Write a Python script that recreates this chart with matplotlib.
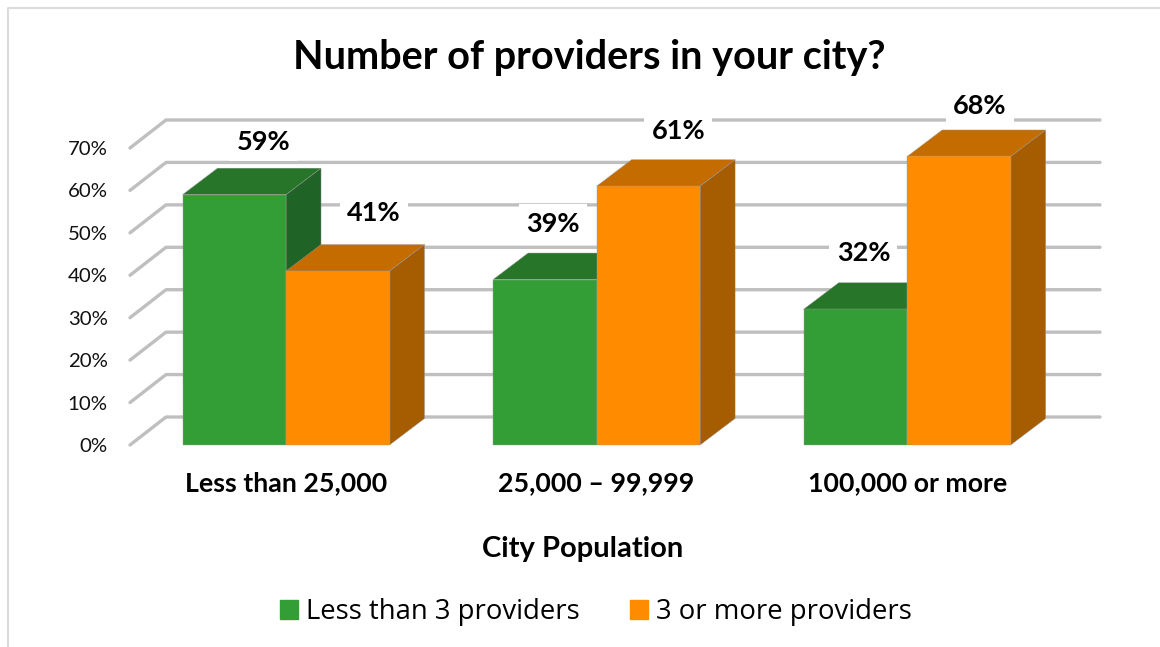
import matplotlib
matplotlib.use('Agg')
import matplotlib.pyplot as plt
from matplotlib.lines import Line2D
from matplotlib.patches import Rectangle

categories = ['Less than 25,000', '25,000 – 99,999', '100,000 or more']
less_than_3 = [59, 39, 32]
three_or_more = [41, 61, 68]
series_names = ['Less than 3 providers', '3 or more providers']
y_ticks = [0, 10, 20, 30, 40, 50, 60, 70]

# front, top, side
green = ['#339e35', '#277528', '#206326']
orange = ['#ff8c00', '#c46c00', '#a65c00']

W, H = 1160, 647
fig = plt.figure(figsize=(W / 100, H / 100), dpi=100)
plt.rcParams['font.family'] = ['Lato', 'DejaVu Sans']

# frame round the chart, open on the right and bottom
fig.add_artist(Line2D([8 / W, 8 / W, 1], [0, 1 - 8 / H, 1 - 8 / H], color='#dcdcdc', lw=1.5))

x_left, x_right = -0.5024, 2.5082
ax = fig.add_axes([130 / W, 1 - 445 / H, 935 / W, 297 / H])
ax.set_xlim(x_left, x_right)
ax.set_ylim(0, 70)
ax.patch.set_visible(False)
for s in ax.spines.values():
    s.set_visible(False)

# depth of the fake 3d, in data units
px_x = (x_right - x_left) / 935
px_y = 70 / 297
wall_dx, wall_dy = 36 * px_x, 28 * px_y
bar_dx, bar_dy = 35 * px_x, 26.5 * px_y
bar_w = 103.5 * px_x

for t in y_ticks:
    ax.plot([x_left, x_left + wall_dx, x_right + wall_dx - 1 * px_x], [t, t + wall_dy, t + wall_dy],
            color='#bfbfbf', lw=2.4, clip_on=False, zorder=1, solid_capstyle='round')


def draw_bars(xs, vals, cols, z):
    for x, v in zip(xs, vals):
        ax.bar(x, v, bar_w, align='edge', color=cols[0], edgecolor='#9a9a9a', lw=0.3, zorder=z + 0.2, clip_on=False)
        ax.fill([x, x + bar_dx, x + bar_w + bar_dx, x + bar_w], [v, v + bar_dy, v + bar_dy, v],
                color=cols[1], ec='#9a9a9a', lw=0.3, zorder=z, clip_on=False)
        ax.fill([x + bar_w, x + bar_w + bar_dx, x + bar_w + bar_dx, x + bar_w], [0, bar_dy, v + bar_dy, v],
                color=cols[2], ec='#9a9a9a', lw=0.3, zorder=z, clip_on=False)


pos = list(range(len(categories)))
draw_bars([p - bar_w for p in pos], less_than_3, green, 3)
draw_bars(pos, three_or_more, orange, 4)

# hand placed data labels, pixels from the top front centre of each bar
offs_green = [(29, 53), (8, 56), (8, 56)]
offs_orange = [(36, 58), (30, 55), (21, 50)]
lab_box = dict(boxstyle='square,pad=0.27', fc='white', ec='none')
for i in pos:
    ax.annotate(f'{less_than_3[i]}%', (i - bar_w / 2, less_than_3[i]), xytext=offs_green[i],
                textcoords='offset pixels', ha='center', va='center', fontsize=19.5,
                fontweight='bold', bbox=lab_box, zorder=2, annotation_clip=False)
    ax.annotate(f'{three_or_more[i]}%', (i + bar_w / 2, three_or_more[i]), xytext=offs_orange[i],
                textcoords='offset pixels', ha='center', va='center', fontsize=19.5,
                fontweight='bold', bbox=lab_box, zorder=2, annotation_clip=False)

ax.set_yticks(y_ticks)
ax.set_yticklabels([f'{t}%' for t in y_ticks], fontsize=14.7, color='#111111')
ax.set_xticks(pos)
ax.set_xticklabels(categories, fontsize=19.3, fontweight='bold')
ax.tick_params(length=0)
ax.tick_params(axis='y', pad=16)
ax.tick_params(axis='x', pad=18.5)

fig.text(589 / W, 1 - 57 / H, 'Number of providers in your city?', ha='center', va='center',
         fontsize=28.5, fontweight='bold')
fig.text(583 / W, 1 - 549 / H, 'City Population', ha='center', va='center', fontsize=21, fontweight='bold')

handles = [Rectangle((0, 0), 1, 1, color=green[0]), Rectangle((0, 0), 1, 1, color=orange[0])]
fig.legend(handles, series_names, ncols=2, loc='center', bbox_to_anchor=(596 / W, 1 - 612 / H),
           frameon=False, handlelength=0.65, handleheight=0.65, handletextpad=0.29, columnspacing=1.85,
           prop={'family': 'Open Sans', 'size': 19.8})

fig.savefig('out.png', dpi=100)
